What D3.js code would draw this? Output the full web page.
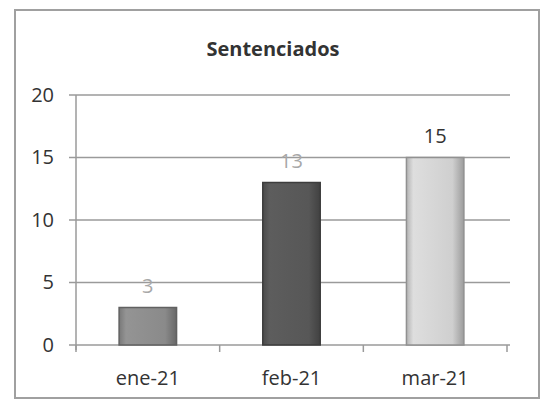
<!DOCTYPE html>
<html>
<head>
<meta charset="utf-8">
<script src="https://cdn.jsdelivr.net/npm/d3@7"></script>
<style>
  body { margin: 0; background: #fff; }
  text { font-family: "Open Sans", "Liberation Sans", sans-serif; }
</style>
</head>
<body>
<svg id="chart"></svg>
<script>
'use strict'

const WIDTH = 545;
const HEIGHT = 403;

const months = ['ene-21', 'feb-21', 'mar-21'];
const sentenced = [3, 13, 15];
const yTicks = [0, 5, 10, 15, 20];
const barFills = ['#8a8a8a', '#575757', '#cfcfcf'];
const labelFills = ['#a8a8a8', '#a8a8a8', '#333333'];

const svg = d3.select('#chart')
  .attr('width', WIDTH)
  .attr('height', HEIGHT);

const plot = { left: 76, right: 507, top: 95, bottom: 345 };

// outer frame
svg.append('rect')
  .attr('x', 15).attr('y', 10)
  .attr('width', 524).attr('height', 388)
  .attr('fill', '#fff')
  .attr('stroke', '#a0a0a0')
  .attr('stroke-width', 2);

svg.append('text')
  .attr('x', 273).attr('y', 56)
  .attr('text-anchor', 'middle')
  .attr('font-size', 20)
  .attr('font-weight', 'bold')
  .attr('fill', '#333')
  .text('Sentenciados');

let yScale = d3.scaleLinear()
  .domain([0, 20])
  .range([plot.bottom, plot.top]);

let xScale = d3.scaleBand()
  .domain(months)
  .range([plot.left, plot.right])
  .paddingInner(0.6)
  .paddingOuter(0.3);

// gridlines
svg.append('g')
  .selectAll('line')
  .data(yTicks)
  .enter().append('line')
  .attr('x1', plot.left - 7)
  .attr('x2', plot.right + 3)
  .attr('y1', d => yScale(d))
  .attr('y2', d => yScale(d))
  .attr('stroke', '#9a9a9a')
  .attr('stroke-width', 1.5);

let leftAxis = d3.axisLeft(yScale).tickValues(yTicks).tickSize(0).tickPadding(22);
svg.append('g')
  .attr('id', 'left-axis')
  .attr('transform', 'translate(' + plot.left + ',0)')
  .call(leftAxis)
  .call(g => g.select('.domain').attr('stroke', '#9a9a9a').attr('stroke-width', 1.5)
    .attr('d', 'M0,' + plot.top + 'V' + (plot.bottom + 5)))
  .call(g => g.selectAll('text').attr('font-size', 20).attr('fill', '#333')
    .attr('font-family', '"Open Sans", sans-serif'));

let bottomAxis = d3.axisBottom(xScale).tickSize(0).tickPadding(26);
svg.append('g')
  .attr('id', 'bottom-axis')
  .attr('transform', 'translate(0,' + plot.bottom + ')')
  .call(bottomAxis)
  .call(g => g.select('.domain').remove())
  .call(g => g.selectAll('text').attr('font-size', 20).attr('fill', '#333')
    .attr('font-family', '"Open Sans", sans-serif'));

// category boundary ticks
const step = (plot.right - plot.left) / months.length;
svg.append('g')
  .selectAll('line')
  .data(d3.range(months.length + 1))
  .enter().append('line')
  .attr('x1', i => plot.left + i * step)
  .attr('x2', i => plot.left + i * step)
  .attr('y1', plot.bottom)
  .attr('y2', plot.bottom + 7)
  .attr('stroke', '#9a9a9a')
  .attr('stroke-width', 1.5);

// bar gradients
const defs = svg.append('defs');
barFills.forEach((c, i) => {
  const g = defs.append('linearGradient').attr('id', 'grad' + i)
    .attr('x1', 0).attr('x2', 1).attr('y1', 0).attr('y2', 0);
  g.append('stop').attr('offset', '0%').attr('stop-color', d3.color(c).darker(0.4));
  g.append('stop').attr('offset', '12%').attr('stop-color', d3.color(c).brighter(0.2));
  g.append('stop').attr('offset', '80%').attr('stop-color', c);
  g.append('stop').attr('offset', '100%').attr('stop-color', d3.color(c).darker(0.8));
});

svg.append('g')
  .selectAll('rect')
  .data(sentenced)
  .enter().append('rect')
  .attr('x', (d, i) => xScale(months[i]))
  .attr('y', d => yScale(d))
  .attr('width', xScale.bandwidth())
  .attr('height', d => plot.bottom - yScale(d))
  .attr('fill', (d, i) => 'url(#grad' + i + ')')
  .attr('stroke', (d, i) => d3.color(barFills[i]).darker(1))
  .attr('stroke-width', 1.5);

svg.append('g')
  .selectAll('text')
  .data(sentenced)
  .enter().append('text')
  .attr('x', (d, i) => xScale(months[i]) + xScale.bandwidth() / 2)
  .attr('y', d => yScale(d) - 15)
  .attr('text-anchor', 'middle')
  .attr('font-size', 20)
  .attr('fill', (d, i) => labelFills[i])
  .text(d => d);
</script>
</body>
</html>
